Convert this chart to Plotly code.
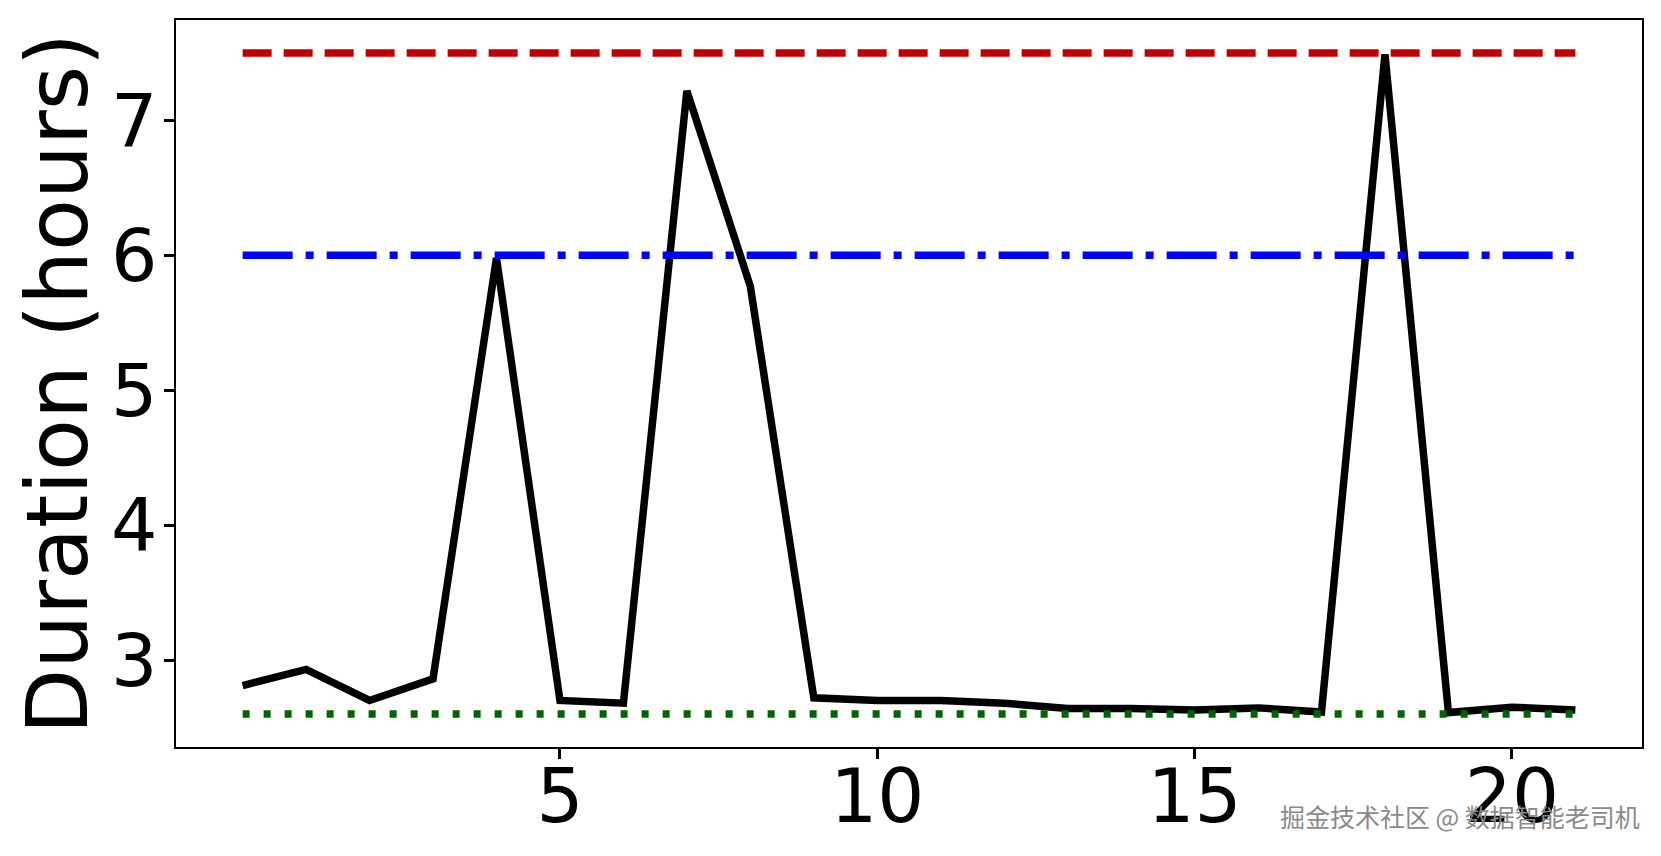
import plotly.graph_objects as go

# Data
days = list(range(22))
durations = [2.81, 2.93, 2.70, 2.86, 5.98, 2.70, 2.68, 7.22, 5.77, 2.72,
             2.70, 2.70, 2.68, 2.64, 2.64, 2.63, 2.645, 2.615, 7.49, 2.61,
             2.65, 2.63]
ref_levels = [7.5, 6.0, 2.6]
ref_colors = ["#c00000", "#0000ff", "#006400"]
ref_dashes = ["29px,12px", "50px,13px,8px,13px", "7px,14px"]
x_ticks = [5, 10, 15, 20]
y_ticks = [3, 4, 5, 6, 7]

fig = go.Figure()
fig.add_trace(go.Scatter(
    x=days, y=durations, mode="lines",
    line=dict(color="black", width=7.5), showlegend=False,
))
for lvl, col, dsh in zip(ref_levels, ref_colors, ref_dashes):
    fig.add_trace(go.Scatter(
        x=[days[0], days[-1]], y=[lvl, lvl], mode="lines",
        line=dict(color=col, width=7.5, dash=dsh), showlegend=False,
    ))

fig.add_annotation(
    text="掘金技术社区 @ 数据智能老司机",
    xref="paper", yref="paper", x=1.0, y=-0.095,
    xanchor="right", yanchor="middle", showarrow=False,
    font=dict(family="Noto Sans CJK SC", size=25, color="#8a8a8a"),
)

fig.update_layout(
    width=1661, height=856,
    margin=dict(l=168, r=27, t=10, b=117),
    paper_bgcolor="white", plot_bgcolor="white",
    font=dict(family="DejaVu Sans", color="black"),
    xaxis=dict(
        range=[-1.05, 22.05], tickmode="array", tickvals=x_ticks,
        ticks="outside", ticklen=10, tickwidth=2.5, tickcolor="black",
        showline=True, linecolor="black", linewidth=2, mirror=True,
        showgrid=False, zeroline=False, ticklabelstandoff=-26,
        tickfont=dict(family="DejaVu Sans", size=74, color="black"),
    ),
    yaxis=dict(
        range=[2.355, 7.745], tickmode="array", tickvals=y_ticks,
        ticks="outside", ticklen=10, tickwidth=2.5, tickcolor="black",
        showline=True, linecolor="black", linewidth=2, mirror=True,
        showgrid=False, zeroline=False, ticklabelstandoff=-8,
        tickfont=dict(family="DejaVu Sans", size=73, color="black"),
        title=dict(text="Duration (hours)", standoff=14,
                   font=dict(family="DejaVu Sans", size=85, color="black")),
    ),
)

fig.write_html("out.html")
